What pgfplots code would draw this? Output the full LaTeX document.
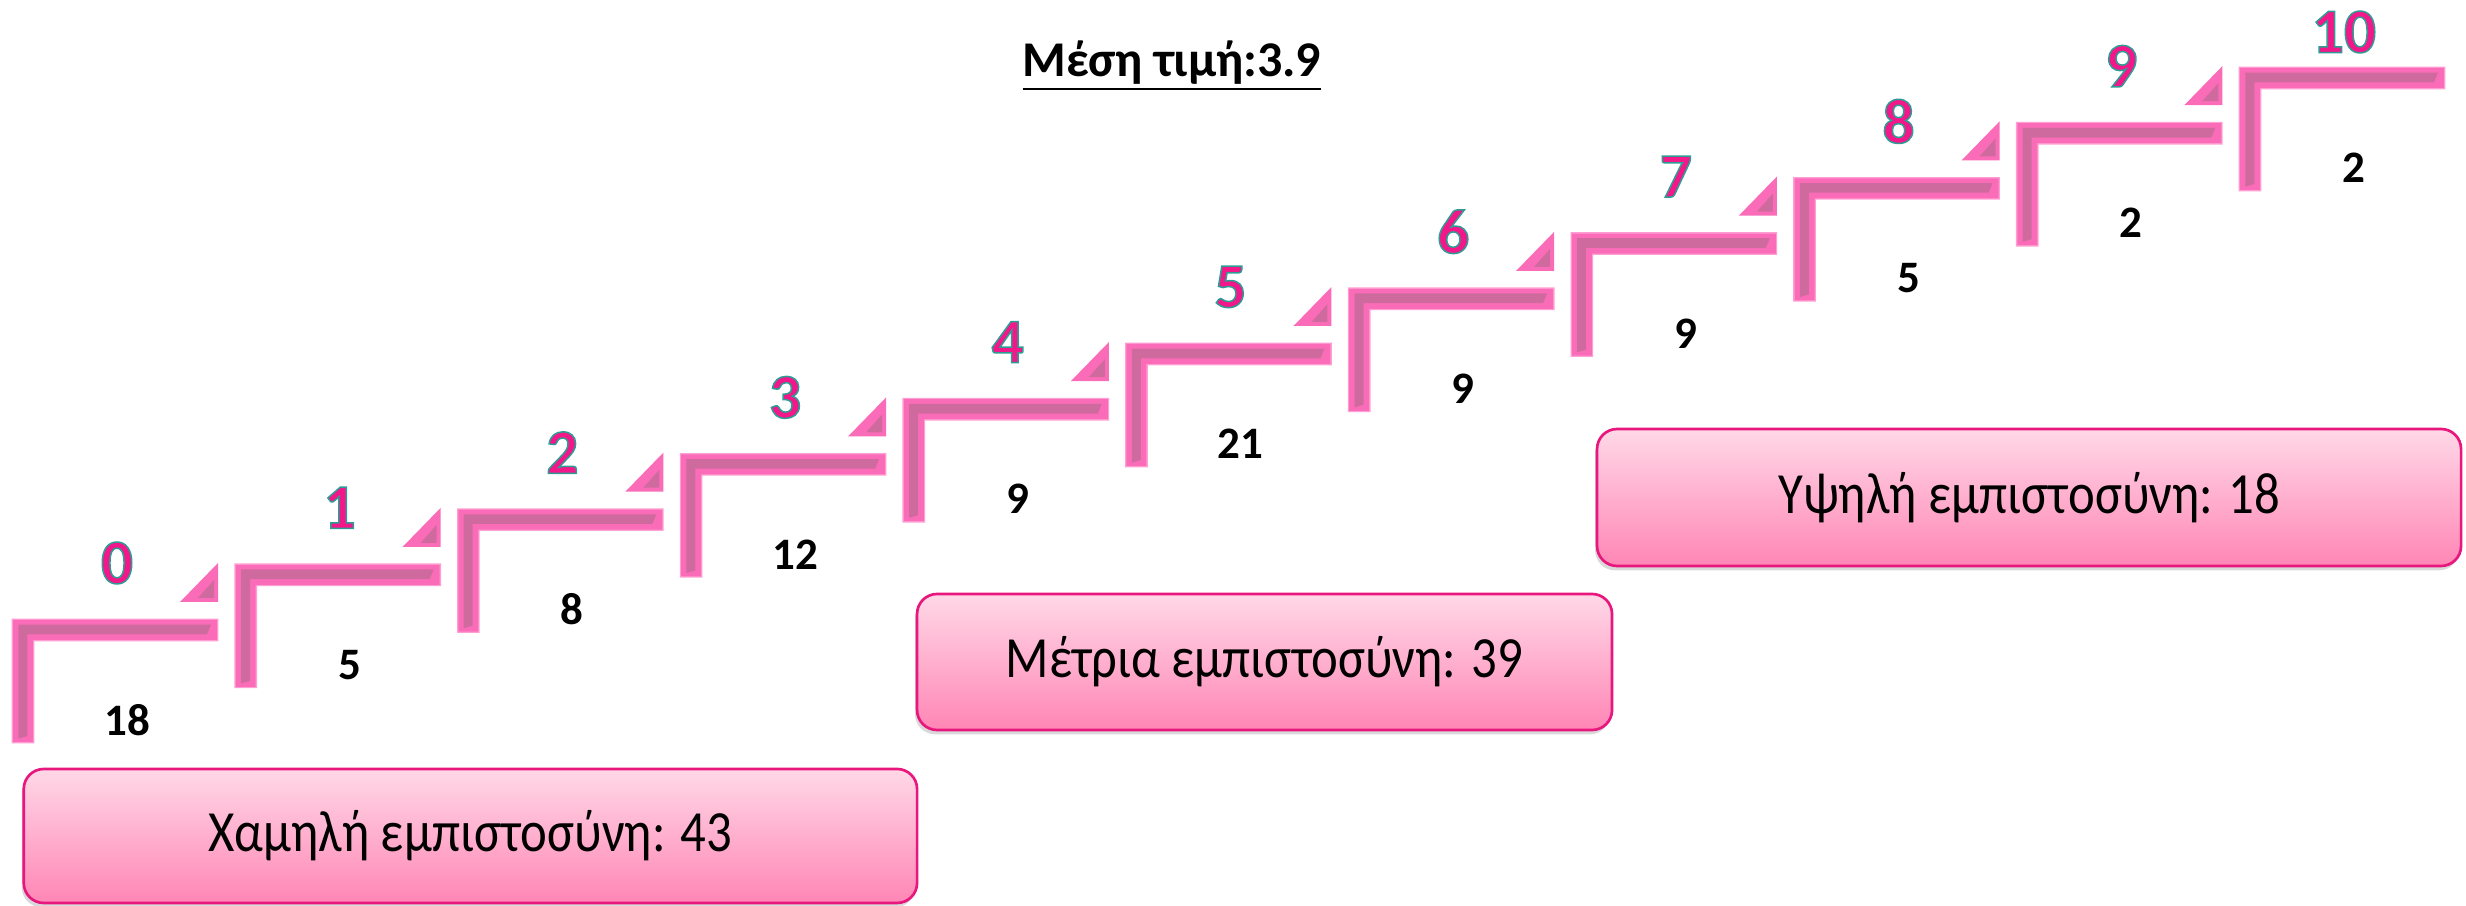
\documentclass[border=0pt]{standalone}
\usepackage{fontspec}
\setmainfont{Carlito}
\newfontfamily\boxfont[FakeStretch=0.87]{Carlito}
\usepackage{pgfplots}
\usepackage{pgfplotstable}
\pgfplotsset{compat=1.18}
\usetikzlibrary{shadows}

\definecolor{barpink}{HTML}{FB6CB8}
\definecolor{bardark}{HTML}{CF6A9E}
\definecolor{barlight}{HTML}{FF9ED2}
\definecolor{lblpink}{HTML}{F2188A}
\definecolor{lblteal}{HTML}{2E9C94}
\definecolor{boxline}{HTML}{E8177D}
\definecolor{boxtop}{HTML}{FFD8E7}
\definecolor{boxbot}{HTML}{FF86B5}

\tikzset{box/.style={draw=boxline, line width=0.8pt, rounded corners=6pt,
    top color=boxtop, bottom color=boxbot,
    drop shadow={shadow xshift=-0.6pt, shadow yshift=-1.3pt, opacity=0.3},
    font=\boxfont\fontsize{17.5}{19}\selectfont, text=black, anchor=center}}

% one step of the stair: an L, corner at the data point
\pgfdeclareplotmark{stepL}{%
  \pgfsetfillcolor{barlight}%
  \pgfpathmoveto{\pgfpoint{-0.4pt}{0.4pt}}%
  \pgfpathlineto{\pgfpoint{61.6pt}{0.4pt}}%
  \pgfpathlineto{\pgfpoint{61.6pt}{-6.4pt}}%
  \pgfpathlineto{\pgfpoint{6.4pt}{-6.4pt}}%
  \pgfpathlineto{\pgfpoint{6.4pt}{-37pt}}%
  \pgfpathlineto{\pgfpoint{-0.4pt}{-37pt}}%
  \pgfpathclose\pgfusepath{fill}%
  \pgfsetfillcolor{barpink}%
  \pgfpathmoveto{\pgfpoint{0pt}{0pt}}%
  \pgfpathlineto{\pgfpoint{61.2pt}{0pt}}%
  \pgfpathlineto{\pgfpoint{61.2pt}{-6pt}}%
  \pgfpathlineto{\pgfpoint{6pt}{-6pt}}%
  \pgfpathlineto{\pgfpoint{6pt}{-36.6pt}}%
  \pgfpathlineto{\pgfpoint{0pt}{-36.6pt}}%
  \pgfpathclose\pgfusepath{fill}%
  \pgfsetfillcolor{bardark}%
  \pgfpathmoveto{\pgfpoint{1.6pt}{-1.4pt}}%
  \pgfpathlineto{\pgfpoint{59.4pt}{-1.4pt}}%
  \pgfpathlineto{\pgfpoint{58.2pt}{-4.3pt}}%
  \pgfpathlineto{\pgfpoint{4.3pt}{-4.3pt}}%
  \pgfpathlineto{\pgfpoint{4.3pt}{-34.8pt}}%
  \pgfpathlineto{\pgfpoint{1.6pt}{-35.6pt}}%
  \pgfpathclose\pgfusepath{fill}%
}
% small corner triangle above the end of a step
\pgfdeclareplotmark{stepTri}{%
  \pgfsetfillcolor{barpink}%
  \pgfpathmoveto{\pgfpoint{50.1pt}{5.4pt}}%
  \pgfpathlineto{\pgfpoint{61.5pt}{5.4pt}}%
  \pgfpathlineto{\pgfpoint{61.5pt}{17.1pt}}%
  \pgfpathclose\pgfusepath{fill}%
  \pgfsetfillcolor{bardark}%
  \pgfpathmoveto{\pgfpoint{55.5pt}{6.6pt}}%
  \pgfpathlineto{\pgfpoint{60.3pt}{6.6pt}}%
  \pgfpathlineto{\pgfpoint{60.3pt}{12pt}}%
  \pgfpathclose\pgfusepath{fill}%
}

% pink digits with a thin teal outline (fill+stroke text mode)
\newcommand\outlined[1]{%
  \textcolor{lblpink}{\special{pdf:literal direct 2 Tr 0.45 w 0.18 0.612 0.58 RG}#1\special{pdf:literal direct 0 Tr}}}

\pgfplotstableread{
step value
0 18
1 5
2 8
3 12
4 9
5 21
6 9
7 9
8 5
9 2
10 2
}\stepdata

\begin{document}
\begin{tikzpicture}
\begin{axis}[
  at={(0pt,0pt)}, anchor=south west,
  scale only axis,
  width=739.8pt, height=271.8pt,
  xmin=-0.0584, xmax=11.015,
  ymin=-5.181, ymax=11.232,
  hide axis,
  clip=false,
]
% stairs
\addplot[only marks, mark=stepL] table[x=step, y=step] {\stepdata};
\addplot[only marks, mark=stepTri, skip coords between index={10}{11}]
  table[x=step, y=step] {\stepdata};
% counts under each step
\addplot[only marks, mark=none, point meta=explicit symbolic,
  nodes near coords,
  nodes near coords style={anchor=center, xshift=34.2pt, yshift=-30pt,
    font=\fontsize{13.5}{15}\selectfont\bfseries, text=black}]
  table[x=step, y=step, meta=value] {\stepdata};
% step names 0..10
\addplot[only marks, mark=none, point meta=explicit symbolic,
  skip coords between index={10}{11},
  nodes near coords={\outlined{\pgfplotspointmeta}},
  nodes near coords style={anchor=center, xshift=31.2pt, yshift=17.1pt,
    font=\fontsize{19}{21}\selectfont\bfseries}]
  table[x=step, y=step, meta=step] {\stepdata};
\addplot[only marks, mark=none, point meta=explicit symbolic,
  skip coords between index={0}{10},
  nodes near coords={\outlined{\pgfplotspointmeta}},
  nodes near coords style={anchor=center, xshift=31.2pt, yshift=10.8pt,
    font=\fontsize{19}{21}\selectfont\bfseries}]
  table[x=step, y=step, meta=step] {\stepdata};

\node[font=\fontsize{15}{17}\selectfont\bfseries] at (axis cs:5.204,10.04)
  {\underline{Μέση τιμή:3.9}};
\node[box, minimum width=268pt, minimum height=40.2pt] at (axis cs:2.054,-3.913)
  {Χαμηλή εμπιστοσύνη: 43};
\node[box, minimum width=208.5pt, minimum height=40.8pt] at (axis cs:5.62,-0.761)
  {Μέτρια εμπιστοσύνη: 39};
\node[box, minimum width=259.2pt, minimum height=41.1pt] at (axis cs:9.053,2.219)
  {Υψηλή εμπιστοσύνη: 18};
\end{axis}
\pgfresetboundingbox
\useasboundingbox (0pt,0pt) rectangle (739.8pt,271.8pt);
\end{tikzpicture}
\end{document}
